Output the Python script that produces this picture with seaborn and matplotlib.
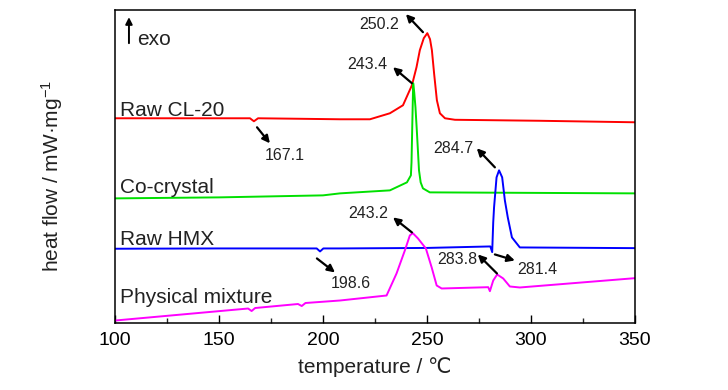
import numpy as np
import pandas as pd
import matplotlib
matplotlib.use('Agg')
import matplotlib.pyplot as plt
import seaborn as sns

# DSC curves (temperature in degC, heat flow in arbitrary units, curves stacked)
cl20_t = [100, 116.8, 160.1, 164.9, 166.8, 168.8, 188.9, 208.2, 222.6, 232.2, 238.5, 242.8, 245.0,
          246.6, 248.5, 250.2, 251.5, 252.4, 253.5, 254.8, 256.25, 258.7, 263.5, 304.3, 350]
cl20_hf = [204, 204, 204, 204, 201, 204, 203.5, 203, 203, 209, 217, 237, 255,
           272, 284, 289, 283, 272, 248, 222, 209, 204, 202.5, 201.5, 200]

cocrystal_t = [100, 150, 200, 208.2, 232.2, 240.4, 242.3, 242.6, 243.0, 243.4, 243.9, 244.5, 245.2,
               246.2, 247.0, 248.1, 251.4, 300, 350]
cocrystal_hf = [124, 125, 127, 129, 132, 140, 147, 160, 200, 239, 230, 215, 190,
                152, 140, 134, 130, 129.5, 129]

hmx_t = [100, 150, 197.0, 198.6, 200.2, 208, 250, 280.5, 281.4, 281.9, 282.3, 282.7, 283.5, 284.7,
         286.2, 287.5, 288.9, 290.9, 294.7, 350]
hmx_hf = [73.7, 74, 74, 71, 74, 74, 74.5, 76, 70.3, 100, 115, 125, 145, 152,
          145, 122, 105, 85, 75, 74.3]

mix_t = [100, 164.0, 165.7, 167.4, 188.0, 189.8, 191.6, 208.2, 230.6, 235.4, 239.4, 241.8, 243.2,
         245.7, 249.5, 252.3, 254.7, 257.1, 279.5, 280.3, 281.9, 283.8, 286.7, 289.9, 294.7, 350]
mix_hf = [2, 14, 11.5, 14.5, 18.5, 16.5, 19.5, 22, 27, 49, 72, 87, 89.3,
          84, 74, 55, 37, 34, 35.3, 31.3, 42, 48, 44, 36, 35, 44.3]

series_names = ['Raw CL-20', 'Co-crystal', 'Raw HMX', 'Physical mixture']
series_colors = ['#ff0000', '#00e000', '#0000ff', '#ff00ff']

# annotated peak temperatures: (label, arrow tail, arrow head, text position)
peak_labels = ['250.2', '243.4', '284.7', '167.1', '198.6', '243.2', '283.8', '281.4']
arrow_tail = [(248.1, 290), (242.8, 239), (282.7, 155), (168.3, 195),
              (197.1, 64), (242.8, 90), (283.7, 49), (282.7, 68)]
arrow_head = [(239.9, 308), (233.7, 255), (274.0, 174), (174.5, 179),
              (205.8, 50), (233.7, 105), (274.5, 68), (292.3, 62)]
text_pos = [(226.9, 298), (221.2, 258), (262.5, 174), (181.7, 167),
            (213.5, 39), (221.6, 109), (264.4, 63), (302.9, 53)]

sns.set_style('ticks')
plt.rcParams['font.family'] = ['Liberation Sans', 'DejaVu Sans']
plt.rcParams['mathtext.default'] = 'regular'

fig = plt.figure(figsize=(7.28, 3.9), dpi=100)
ax = fig.add_axes([0.158, 0.173, 0.714, 0.801])

curves = [(cl20_t, cl20_hf), (cocrystal_t, cocrystal_hf), (hmx_t, hmx_hf), (mix_t, mix_hf)]
for (t, hf), name, col in zip(curves, series_names, series_colors):
    d = pd.DataFrame({'T': t, 'HF': hf})
    sns.lineplot(data=d, x='T', y='HF', ax=ax, color=col, lw=1.4, sort=False, estimator=None)

# curve names
label_y = [206, 129, 77, 20]
for name, y in zip(series_names, label_y):
    ax.text(102.4, y, name, fontsize=15, va='baseline', ha='left', color='#222222')

for lab, tl, hd, tp in zip(peak_labels, arrow_tail, arrow_head, text_pos):
    ax.annotate('', xy=hd, xytext=tl,
                arrowprops=dict(arrowstyle='-|>', color='black', lw=1.6, mutation_scale=11,
                                shrinkA=0, shrinkB=0))
    ax.text(tp[0], tp[1], lab, fontsize=11.5, ha='center', va='center', color='#222222')

# exo marker
ax.annotate('', xy=(106.7, 305), xytext=(106.7, 279),
            arrowprops=dict(arrowstyle='-|>', color='black', lw=1.4, mutation_scale=10,
                            shrinkA=0, shrinkB=0))
ax.text(110.4, 283, 'exo', fontsize=15, ha='left', va='center', color='#222222')

ax.set_xlim(100, 350)
ax.set_ylim(0, 312)
ax.set_xticks([100, 150, 200, 250, 300, 350])
ax.set_xticks([125, 175, 225, 275, 325], minor=True)
ax.set_yticks([])
ax.tick_params(axis='x', which='major', direction='in', length=5.5, width=1.0,
               labelsize=14, pad=7, colors='black')
ax.tick_params(axis='x', which='minor', direction='in', length=3.5, width=1.0)
for sp in ax.spines.values():
    sp.set_visible(True)
    sp.set_linewidth(1.1)
    sp.set_color('black')

ax.set_xlabel('temperature / \u2103', fontsize=15, labelpad=6, color='#222222')
ax.set_ylabel('heat flow / mW\u00b7mg$^{-1}$', fontsize=15, color='#222222')
ax.yaxis.set_label_coords(-0.096, 0.47)

fig.savefig('out.png', dpi=100)
